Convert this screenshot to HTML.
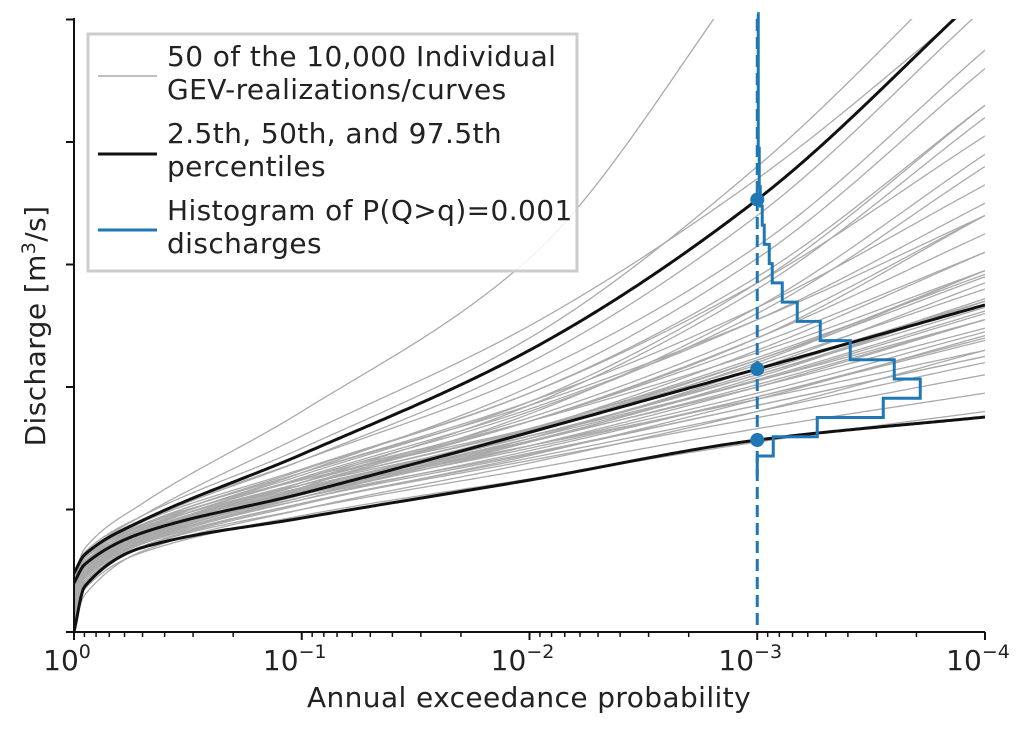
<!DOCTYPE html>
<html><head><meta charset="utf-8"><style>
html,body{margin:0;padding:0;background:#fff}
svg{display:block;font-family:"DejaVu Sans","Liberation Sans",sans-serif}
</style></head><body>
<svg id="chart" width="1033" height="732" viewBox="0 0 1033 732" xmlns="http://www.w3.org/2000/svg">
<defs><clipPath id="plotclip"><rect x="74" y="19" width="911" height="613"/></clipPath></defs>
<g id="grey" clip-path="url(#plotclip)"></g>
<g id="pct" clip-path="url(#plotclip)"></g>
<g id="hist"></g>
<g id="axes"></g>
<g>
<rect x="88" y="34" width="489" height="237" fill="#fff" fill-opacity="0.85" stroke="#ccc" stroke-width="3"/>
<line x1="98" y1="76" x2="157" y2="76" stroke="#aaa" stroke-width="1.5"/>
<line x1="98" y1="154" x2="157" y2="154" stroke="#111" stroke-width="3"/>
<line x1="98" y1="230" x2="157" y2="230" stroke="#1f77b4" stroke-width="3"/>
<g font-size="28" fill="#222" letter-spacing="0.4">
<text x="167" y="66">50 of the 10,000 Individual</text>
<text x="167" y="99">GEV-realizations/curves</text>
<text x="167" y="143">2.5th, 50th, and 97.5th</text>
<text x="167" y="176">percentiles</text>
<text x="167" y="220">Histogram of P(Q&gt;q)=0.001</text>
<text x="167" y="253">discharges</text>
</g></g>
<text x="529" y="707" font-size="28" letter-spacing="0.4" text-anchor="middle" fill="#222">Annual exceedance probability</text>
<text transform="translate(45,326) rotate(-90)" font-size="28" letter-spacing="0.4" text-anchor="middle" fill="#222">Discharge [m<tspan font-size="19" dy="-10">3</tspan><tspan dy="10">/s]</tspan></text>
</svg>
<script>
const anchorLogP = [0, -0.0458, -0.301, -1, -2, -3, -4];
const pctLower = [0.00, 0.37, 0.69, 0.93, 1.24, 1.567, 1.755];
const pctMedian = [0.40, 0.55, 0.81, 1.13, 1.63, 2.147, 2.67];
const pctUpper = [0.48, 0.63, 0.91, 1.45, 2.30, 3.53, 5.24];
const greyCurves = [
[0.05,0.35,0.65,0.95,1.25,1.55,1.80],[0.10,0.40,0.70,1.00,1.33,1.66,1.95],
[0.20,0.45,0.72,1.05,1.40,1.75,2.10],[0.30,0.50,0.75,1.08,1.45,1.85,2.25],
[0.35,0.52,0.78,1.12,1.50,1.92,2.38],[0.40,0.55,0.80,1.15,1.58,2.05,2.60],
[0.25,0.48,0.76,1.12,1.55,2.02,2.55],[0.15,0.42,0.73,1.10,1.55,2.08,2.70],
[0.38,0.56,0.82,1.20,1.65,2.18,2.80],[0.45,0.60,0.85,1.22,1.72,2.40,3.40],
[0.30,0.52,0.80,1.20,1.72,2.40,3.25],[0.20,0.46,0.76,1.18,1.78,2.65,3.90],
[0.42,0.60,0.88,1.30,1.88,2.65,3.65],[0.35,0.57,0.87,1.32,1.95,2.90,4.30],
[0.28,0.52,0.84,1.30,2.00,3.05,4.60],[0.45,0.63,0.92,1.40,2.10,3.15,4.75],
[0.40,0.60,0.90,1.40,2.20,3.40,5.10],[0.48,0.65,0.95,1.50,2.40,3.80,5.60],
[0.10,0.38,0.70,1.05,1.42,1.80,2.20],[0.32,0.53,0.79,1.13,1.52,1.95,2.45],
[0.22,0.47,0.77,1.15,1.60,2.10,2.65],[0.36,0.55,0.81,1.17,1.60,2.12,2.72],
[0.05,0.30,0.66,1.00,1.38,1.80,2.30],[0.42,0.58,0.83,1.18,1.60,2.10,2.70],
[0.30,0.50,0.78,1.15,1.62,2.20,2.95],[0.18,0.44,0.74,1.10,1.52,2.00,2.55],
[0.38,0.57,0.84,1.25,1.80,2.60,3.80],[0.26,0.50,0.80,1.22,1.75,2.45,3.40],
[0.44,0.61,0.87,1.25,1.72,2.28,2.95],[0.12,0.40,0.72,1.08,1.48,1.92,2.40],
[0.34,0.54,0.81,1.16,1.56,2.00,2.48],[0.40,0.58,0.83,1.16,1.52,1.90,2.30],
[0.28,0.50,0.77,1.10,1.46,1.85,2.25],[0.47,0.63,0.88,1.24,1.66,2.15,2.70],
[0.20,0.45,0.75,1.12,1.58,2.15,2.85],[0.36,0.56,0.85,1.28,1.88,2.85,4.30],
[0.30,0.53,0.83,1.26,1.82,2.55,3.50],[0.15,0.42,0.74,1.14,1.65,2.30,3.10],
[0.44,0.62,0.90,1.33,1.95,2.85,4.05],[0.45,0.68,1.05,1.80,3.05,5.50,8.00],
[0.40,0.62,0.95,1.60,2.50,3.70,5.20],[0.33,0.54,0.82,1.20,1.66,2.22,2.90],
[0.25,0.49,0.78,1.14,1.56,2.06,2.62],[0.08,0.36,0.69,1.04,1.44,1.90,2.42],
[0.46,0.62,0.86,1.20,1.60,2.05,2.55],[0.38,0.57,0.83,1.20,1.66,2.24,2.92],
[0.22,0.47,0.79,1.22,1.85,2.80,4.20],[0.31,0.53,0.82,1.22,1.72,2.35,3.10],
[0.43,0.61,0.88,1.30,1.85,2.55,3.40],[0.18,0.44,0.76,1.16,1.64,2.22,2.95]
];
const histStart = 1.437;
const histBinWidth = 0.157;
const histCounts = [16,60,126,163,137,93,63,40,25,15,12,7,5,3,2,2,1,1,1,1,1,1,1];
const targetLogP = -3;
const xTickExp = [0,-1,-2,-3,-4];
const yTickVals = [0,1,2,3,4,5];

const NS='http://www.w3.org/2000/svg';
const X0=74, DEC=227.75, Y0=632, YU=122.5;
const xs = lp => X0 + (-lp)*DEC;
const ys = u => Y0 - u*YU;
function mk(tag, attrs, parent){const e=document.createElementNS(NS,tag);for(const k in attrs)e.setAttribute(k,attrs[k]);parent.appendChild(e);return e;}

function monotone(xv, yv){
  const n=xv.length, d=[], m=new Array(n);
  for(let i=0;i<n-1;i++) d.push((yv[i+1]-yv[i])/(xv[i+1]-xv[i]));
  m[0]=d[0]; m[n-1]=d[n-2];
  for(let i=1;i<n-1;i++){ m[i]=(d[i-1]*d[i]<=0)?0:2/(1/d[i-1]+1/d[i]); }
  return t=>{
    let i=0; while(i<n-2 && t>xv[i+1]) i++;
    const h=xv[i+1]-xv[i], s=(t-xv[i])/h;
    const h00=2*s*s*s-3*s*s+1,h10=s*s*s-2*s*s+s,h01=-2*s*s*s+3*s*s,h11=s*s*s-s*s;
    return h00*yv[i]+h10*h*m[i]+h01*yv[i+1]+h11*h*m[i+1];
  };
}
const ax = anchorLogP.map(v=>-v);
function curvePath(vals){
  const f=monotone(ax, vals); let d='';
  for(let k=0;k<=400;k++){const t=4*k/400; d+=(k?'L':'M')+xs(-t).toFixed(2)+','+ys(f(t)).toFixed(2);}
  return d;
}
const gG=document.getElementById('grey');
greyCurves.forEach((c,i)=>{
  const p=mk('path',{d:curvePath(c),fill:'none',stroke:'#aaa','stroke-width':1.3},gG);
  
  
});
const gP=document.getElementById('pct');
[[pctLower,'percentile-2-5'],[pctMedian,'percentile-50'],[pctUpper,'percentile-97-5']].forEach(([c,n])=>{
  const p=mk('path',{d:curvePath(c),fill:'none',stroke:'#111','stroke-width':3},gP);
  
  
});
const gH=document.getElementById('hist');
const hx=xs(targetLogP);
const dl=mk('line',{x1:hx,y1:19,x2:hx,y2:632,stroke:'#1f77b4','stroke-width':3,'stroke-dasharray':'12,6'},gH);


let hd='M'+hx+','+ys(histStart-histBinWidth);
hd+='L'+hx+','+ys(histStart);
histCounts.forEach((c,i)=>{
  const yb=ys(histStart+i*histBinWidth), yt=ys(histStart+(i+1)*histBinWidth);
  hd+='L'+(hx+c)+','+yb+'L'+(hx+c)+','+yt;
});
hd+='L'+hx+','+ys(histStart+histCounts.length*histBinWidth);
const hp=mk('path',{d:hd,fill:'none',stroke:'#1f77b4','stroke-width':3},gH);


[pctLower,pctMedian,pctUpper].forEach(c=>{
  const f=monotone(ax,c);
  const dot=mk('circle',{cx:hx,cy:ys(f(-targetLogP)),r:7,fill:'#1f77b4'},gH);
  
  
});
const gA=document.getElementById('axes');
const ls=mk('line',{x1:74,y1:18,x2:74,y2:633,stroke:'#111','stroke-width':2},gA);


const bs=mk('line',{x1:73,y1:632,x2:985,y2:632,stroke:'#111','stroke-width':2},gA);


yTickVals.forEach(v=>{
  const t=mk('line',{x1:66,x2:74,y1:ys(v),y2:ys(v),stroke:'#111','stroke-width':2},gA);
  
  
});
xTickExp.forEach(e=>{
  const x=xs(e);
  const t=mk('line',{x1:x,x2:x,y1:632,y2:640,stroke:'#111','stroke-width':2},gA);
  
  
  const lb=mk('text',{x:x-7,y:670,'font-size':28,'text-anchor':'middle',fill:'#222'},gA);
  
  
  lb.textContent='10';
  const sp=mk('tspan',{'font-size':19,dy:-12},lb);
  sp.textContent=(e===0?'0':'\u2212'+(-e));
  if(e>-4){
    for(let k=2;k<=9;k++){
      const mx=xs(e-1+Math.log10(k));
      const mt=mk('line',{x1:mx,x2:mx,y1:632,y2:637,stroke:'#111','stroke-width':1.5},gA);
      
      
    }
  }
});
</script>
</body></html>
